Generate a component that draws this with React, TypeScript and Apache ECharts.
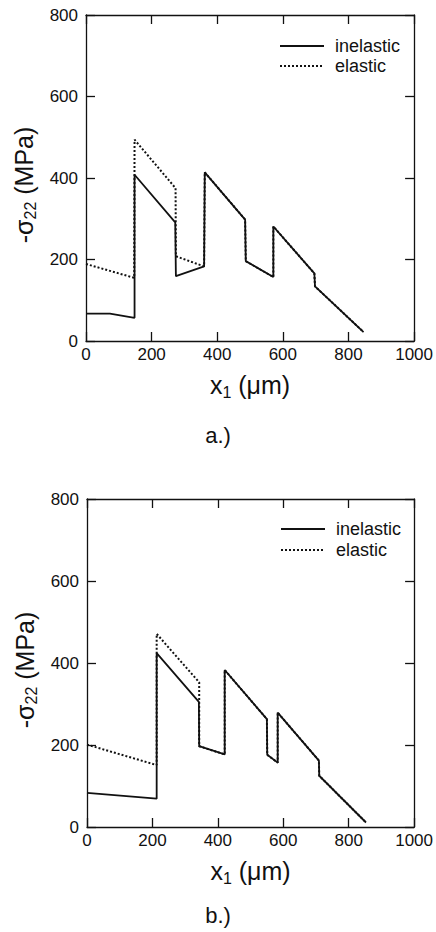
import React, { useEffect, useRef } from "react";
import * as echarts from "echarts";

// x in µm, y = -sigma22 in MPa
const aInelastic: number[][] = [
  [0, 67], [73, 67], [148, 57], [148, 408], [272, 291], [274, 159], [360, 183],
  [362, 414], [485, 298], [487, 196], [571, 157], [571, 281], [696, 166], [698, 134], [846, 22],
];
const aElastic: number[][] = [
  [0, 189], [147, 155], [148, 494], [273, 375], [274, 208], [360, 183],
  [362, 414], [485, 298], [487, 196], [571, 157], [571, 281], [696, 166], [698, 134], [846, 22],
];
const bInelastic: number[][] = [
  [0, 83], [213, 69], [213, 424], [342, 305], [343, 197], [421, 177], [421, 383],
  [550, 263], [551, 176], [583, 157], [583, 279], [709, 162], [710, 125], [853, 11],
];
const bElastic: number[][] = [
  [0, 201], [213, 151], [213, 471], [343, 353], [343, 197], [421, 177], [421, 383],
  [550, 263], [551, 176], [583, 157], [583, 279], [709, 162], [710, 125], [853, 11],
];
const seriesNames = ["inelastic", "elastic"];
const panelLabels = ["a.)", "b.)"];
const xTicks = { min: 0, max: 1000, interval: 200 };
const yTicks = { min: 0, max: 800, interval: 200 };

const FONT = "'Liberation Sans', Arial, Helvetica, sans-serif";
const BLACK = "#111";

const rich = {
  n: { fontSize: 25, lineHeight: 30, fontFamily: FONT, color: BLACK },
  sub: { fontSize: 16, lineHeight: 14, verticalAlign: "bottom", fontFamily: FONT, color: BLACK },
};

function xAx(grid: number, top: boolean) {
  return {
    gridIndex: grid,
    type: "value",
    ...xTicks,
    position: top ? "top" : "bottom",
    axisLine: { show: true, onZero: false, lineStyle: { color: BLACK, width: 1.3 } },
    axisTick: { show: true, inside: true, length: 9, lineStyle: { color: BLACK, width: 1.3 } },
    axisLabel: top
      ? { show: false }
      : { show: true, fontSize: 17, color: BLACK, fontFamily: FONT, margin: 5, formatter: (v: number) => String(v) },
    splitLine: { show: false },
    name: top ? "" : "{n|x}{sub|1}{n| (μm)}",
    nameLocation: "middle",
    nameGap: 29,
    nameTextStyle: { rich },
  };
}
function yAx(grid: number, right: boolean) {
  return {
    gridIndex: grid,
    type: "value",
    ...yTicks,
    position: right ? "right" : "left",
    axisLine: { show: true, onZero: false, lineStyle: { color: BLACK, width: 1.3 } },
    axisTick: { show: true, inside: true, length: 9, lineStyle: { color: BLACK, width: 1.3 } },
    axisLabel: right
      ? { show: false }
      : { show: true, fontSize: 17, color: BLACK, fontFamily: FONT, margin: 8, formatter: (v: number) => String(v) },
    splitLine: { show: false },
    name: right ? "" : "{n|-σ}{sub|22}{n| (MPa)}",
    nameLocation: "middle",
    nameGap: 39,
    nameRotate: 90,
    nameTextStyle: { rich, padding: [0, 14, 0, 0] },
  };
}

function lineSeries(name: string, data: number[][], idx: number, dotted: boolean) {
  return {
    name,
    type: "line",
    xAxisIndex: idx,
    yAxisIndex: idx,
    data,
    symbol: "none",
    showSymbol: false,
    lineStyle: { color: BLACK, width: dotted ? 2 : 1.8, type: dotted ? "dotted" : "solid" },
    itemStyle: { color: BLACK },
    z: dotted ? 2 : 3,
  };
}

function legend(left: number, top: number, gap: number) {
  return {
    left,
    top,
    orient: "vertical",
    data: seriesNames,
    selectedMode: false,
    itemWidth: 44,
    itemHeight: 14,
    itemGap: gap,
    padding: 0,
    itemStyle: { opacity: 0 },
    textStyle: { fontSize: 18, lineHeight: 17, color: BLACK, fontFamily: FONT, padding: [0, 0, 0, 6] },
  };
}

export default function App() {
  const ref = useRef<HTMLDivElement>(null);
  useEffect(() => {
    if (!ref.current) return;
    const chart = echarts.init(ref.current, undefined, { renderer: "svg" });
    chart.setOption({
      animation: false,
      backgroundColor: "#fff",
      title: [
        { text: panelLabels[0], left: "center", top: 419, textStyle: { fontSize: 22, fontWeight: "normal", color: BLACK, fontFamily: FONT } },
        { text: panelLabels[1], left: "center", top: 899, textStyle: { fontSize: 22, fontWeight: "normal", color: BLACK, fontFamily: FONT } },
      ],
      legend: [legend(279, 37, 2), legend(280, 520, 3)],
      grid: [
        { left: 86, top: 15, width: 329, height: 326 },
        { left: 87, top: 499, width: 329, height: 328 },
      ],
      xAxis: [xAx(0, false), xAx(0, true), xAx(1, false), xAx(1, true)],
      yAxis: [yAx(0, false), yAx(0, true), yAx(1, false), yAx(1, true)],
      series: [
        lineSeries(seriesNames[1], aElastic, 0, true),
        lineSeries(seriesNames[0], aInelastic, 0, false),
        { ...lineSeries(seriesNames[1], bElastic, 2, true), yAxisIndex: 2 },
        { ...lineSeries(seriesNames[0], bInelastic, 2, false), yAxisIndex: 2 },
      ],
    });
    return () => chart.dispose();
  }, []);
  return (
    <div
      ref={ref}
      style={{ position: "fixed", left: 0, top: 0, width: 436, height: 932, background: "#fff" }}
    />
  );
}
